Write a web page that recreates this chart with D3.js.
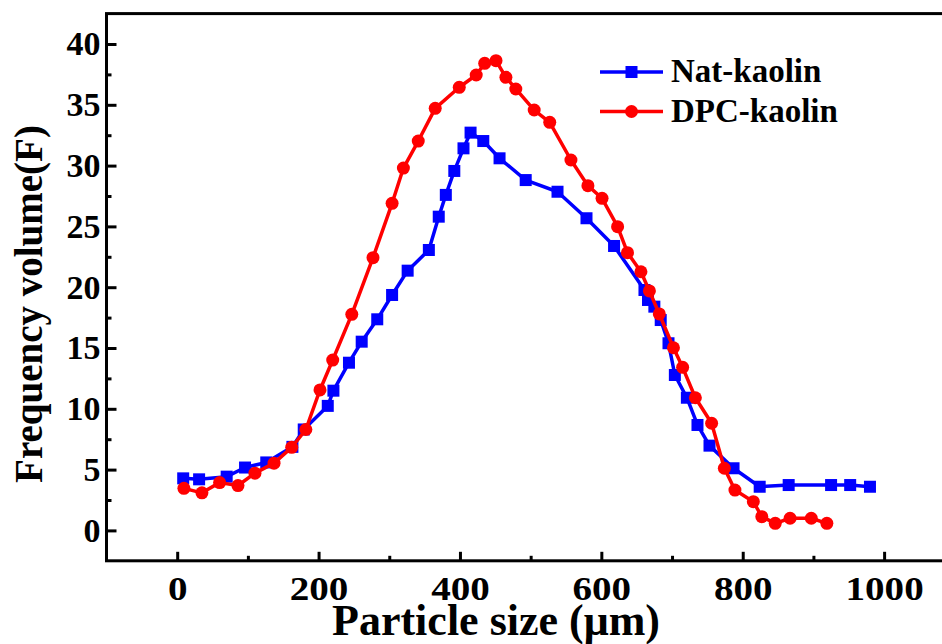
<!DOCTYPE html>
<html>
<head>
<meta charset="utf-8">
<script src="https://cdn.jsdelivr.net/npm/d3@7"></script>
<style>
  html, body { margin: 0; padding: 0; background: #fff; }
  svg { display: block; }
  text { font-family: "Liberation Serif", "Times New Roman", serif; font-weight: bold; fill: #000; }
</style>
</head>
<body>
<svg id="chart" width="942" height="644"></svg>
<script>
// Particle size distribution of natural and DPC-treated kaolin
const natSize = [8.5, 31, 70, 96, 126, 163, 179, 213, 221, 243, 261, 283, 304, 326, 356, 370, 380, 392, 405,
  415, 433, 456, 493, 538, 579, 618, 661, 666, 675, 684, 695, 704, 721, 736, 753, 787, 824, 865, 925, 952, 980];
const natFreq = [4.28, 4.20, 4.42, 5.17, 5.59, 6.87, 8.30, 10.24, 11.49, 13.79, 15.52, 17.36, 19.36, 21.36, 23.06, 25.80, 27.59, 29.56, 31.42,
  32.71, 32.02, 30.60, 28.81, 27.85, 25.67, 23.39, 19.77, 18.95, 18.40, 17.30, 15.39, 12.78, 10.91, 8.67, 6.97, 5.11, 3.59, 3.73, 3.73, 3.73, 3.59];

const dpcSize = [9.5, 35, 60, 86, 110, 137, 162, 182, 202, 220, 247, 277, 304, 320, 341, 365, 399, 423, 435, 451, 465, 479,
  505, 527, 557, 581, 601, 623, 637, 656, 668, 682, 702, 715, 733, 756, 774, 789, 815, 827, 846, 867, 897, 919];
const dpcFreq = [3.46, 3.09, 3.93, 3.69, 4.71, 5.53, 6.83, 8.30, 11.55, 14.01, 17.77, 22.43, 26.90, 29.80, 32.02, 34.71, 36.44, 37.45, 38.41, 38.63, 37.26, 36.30,
  34.57, 33.56, 30.46, 28.35, 27.31, 24.98, 22.84, 21.27, 19.69, 17.80, 15.02, 13.41, 10.91, 8.81, 5.11, 3.32, 2.36, 1.13, 0.58, 1.00, 1.00, 0.58];

const seriesNames = ["Nat-kaolin", "DPC-kaolin"];
const seriesColors = ["#0000ff", "#ff0000"];

const xMajorTicks = [0, 200, 400, 600, 800, 1000];
const xMinorTicks = [100, 300, 500, 700, 900];
const yMajorTicks = [0, 5, 10, 15, 20, 25, 30, 35, 40];
const yMinorTicks = [2.5, 7.5, 12.5, 17.5, 22.5, 27.5, 32.5, 37.5];

const xTitle = "Particle size (\u03bcm)";
const yTitle = "Frequency volume(F)";

const svg = d3.select("#chart");
const plot = { left: 106.5, right: 954.8, top: 13.6, bottom: 560.8 };

const x = d3.scaleLinear().domain([-100, 1100]).range([plot.left, plot.right]);
const y = d3.scaleLinear().domain([-2.5, 42.5]).range([plot.bottom, plot.top]);

// Inward ticks on bottom and left axes
const gx = svg.append("g").attr("transform", `translate(0,${plot.bottom})`);
gx.call(d3.axisBottom(x).tickValues(xMajorTicks).tickSize(-9).tickPadding(15).tickFormat(d3.format("d")));
const gxm = svg.append("g").attr("transform", `translate(0,${plot.bottom})`);
gxm.call(d3.axisBottom(x).tickValues(xMinorTicks).tickSize(-5).tickFormat(""));

const gy = svg.append("g").attr("transform", `translate(${plot.left},0)`);
gy.call(d3.axisLeft(y).tickValues(yMajorTicks).tickSize(-10).tickPadding(6).tickFormat(d3.format("d")));
const gym = svg.append("g").attr("transform", `translate(${plot.left},0)`);
gym.call(d3.axisLeft(y).tickValues(yMinorTicks).tickSize(-5).tickFormat(""));

svg.selectAll(".domain").remove();
svg.selectAll(".tick line").attr("stroke", "#000").attr("stroke-width", 3);
svg.selectAll(".tick text").attr("font-size", 34).attr("font-family", "Liberation Serif, serif").attr("font-weight", "bold").attr("fill", "#000");
// Bottom tick labels are set a little wider
gx.selectAll(".tick text").attr("transform", "scale(1.15,1)");

// Frame
svg.append("rect")
  .attr("x", plot.left).attr("y", plot.top)
  .attr("width", plot.right - plot.left).attr("height", plot.bottom - plot.top)
  .attr("fill", "none").attr("stroke", "#000").attr("stroke-width", 3);

// Axis titles
svg.append("text")
  .attr("x", 496).attr("y", 635)
  .attr("text-anchor", "middle").attr("font-size", 44)
  .text(xTitle);

svg.append("text")
  .attr("transform", "translate(42,304) rotate(-90)")
  .attr("text-anchor", "middle").attr("font-size", 39)
  .text(yTitle);

// Series
const series = [
  { name: seriesNames[0], color: seriesColors[0], shape: "square", pts: natSize.map((s, i) => [s, natFreq[i]]) },
  { name: seriesNames[1], color: seriesColors[1], shape: "circle", pts: dpcSize.map((s, i) => [s, dpcFreq[i]]) }
];

const line = d3.line().x(d => x(d[0])).y(d => y(d[1]));
const sq = 12, rad = 6.5;

function marker(g, shape, color, cx, cy) {
  if (shape === "square") {
    g.append("rect").attr("x", cx - sq / 2).attr("y", cy - sq / 2)
      .attr("width", sq).attr("height", sq).attr("fill", color);
  } else {
    g.append("circle").attr("cx", cx).attr("cy", cy).attr("r", rad).attr("fill", color);
  }
}

series.forEach(s => {
  const g = svg.append("g");
  g.append("path").datum(s.pts)
    .attr("d", line).attr("fill", "none")
    .attr("stroke", s.color).attr("stroke-width", 3.5).attr("stroke-linejoin", "round");
  s.pts.forEach(p => marker(g, s.shape, s.color, x(p[0]), y(p[1])));
});

// Legend
const legend = svg.append("g");
series.forEach((s, i) => {
  const ly = 72 + i * 39.5;
  legend.append("line").attr("x1", 600).attr("x2", 663).attr("y1", ly).attr("y2", ly)
    .attr("stroke", s.color).attr("stroke-width", 3.5);
  marker(legend, s.shape, s.color, 631.5, ly);
  legend.append("text").attr("x", 671).attr("y", ly + 10).attr("font-size", 33).text(s.name);
});
</script>
</body>
</html>
